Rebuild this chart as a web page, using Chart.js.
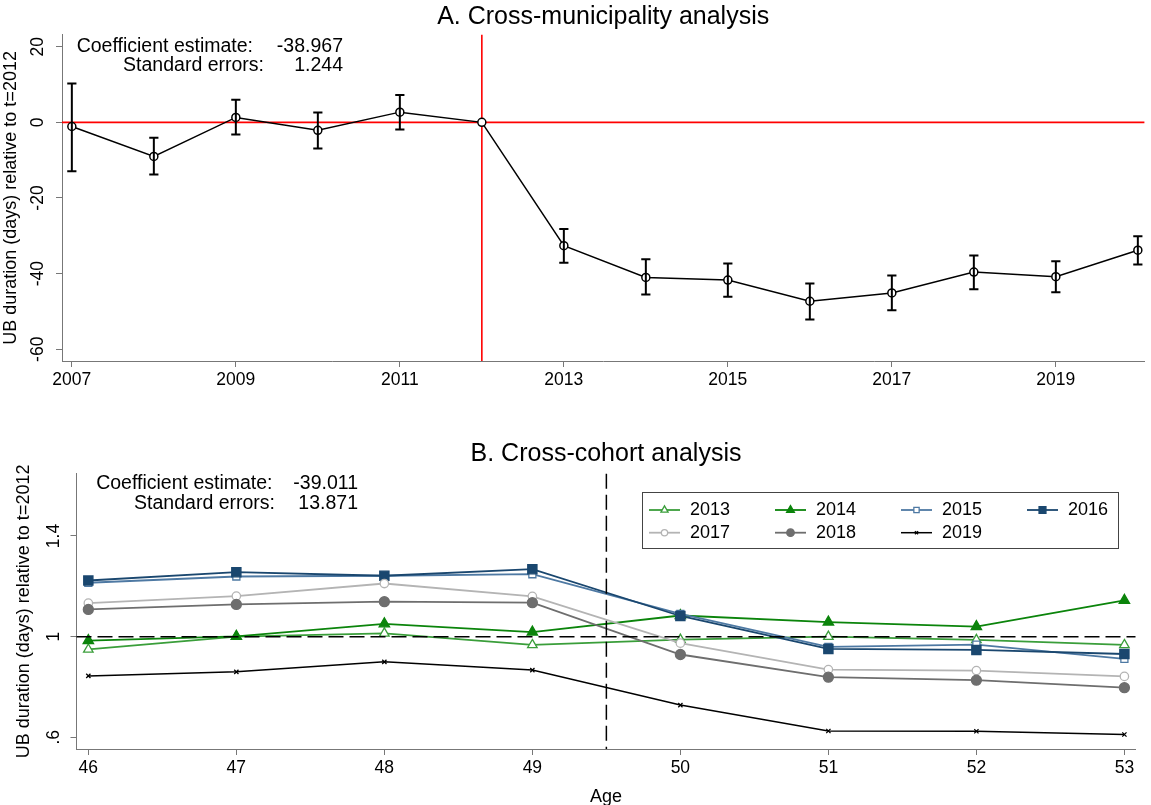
<!DOCTYPE html>
<html lang="en">
<head>
<meta charset="UTF-8" />
<title>UB duration relative to t=2012</title>
<script src="https://cdn.jsdelivr.net/npm/chart.js@4.4.1/dist/chart.umd.min.js"></script>
<style>
  html, body { margin: 0; padding: 0; background: #fff; overflow: hidden; }
  .panel { position: absolute; left: 0; width: 1151px; }
  #panelA { top: 0; height: 400px; }
  #panelB { top: 400px; height: 410px; }
</style>
</head>
<body>
<div class="panel" id="panelA"><canvas id="chartA"></canvas></div>
<div class="panel" id="panelB"><canvas id="chartB"></canvas></div>

<script>
// ---- Panel A: cross-municipality ----
const yearsA = [2007, 2008, 2009, 2010, 2011, 2012, 2013, 2014, 2015, 2016, 2017, 2018, 2019, 2020];
const estA = [-1.1, -9.0, 1.3, -2.1, 2.7, 0, -32.6, -41.0, -41.7, -47.3, -45.1, -39.6, -40.8, -33.8];
const ciLowA = [-12.9, -13.8, -3.2, -6.9, -1.9, null, -37.1, -45.5, -46.1, -52.1, -49.7, -44.1, -44.9, -37.6];
const ciHighA = [10.3, -4.1, 6.0, 2.6, 7.2, null, -28.2, -36.2, -37.3, -42.6, -40.5, -35.2, -36.7, -30.1];
const xTicksA = [2007, 2009, 2011, 2013, 2015, 2017, 2019];
const yTicksA = [-60, -40, -20, 0, 20];
const statLabels = ["Coefficient estimate:", "Standard errors:"];
const statsA = ["-38.967", "1.244"];

// ---- Panel B: cross-cohort ----
const ages = [46, 47, 48, 49, 50, 51, 52, 53];
const cohorts = ["2013", "2014", "2015", "2016", "2017", "2018", "2019"];
const v2013 = [0.949, 1.000, 1.013, 0.967, 0.988, 1.000, 0.987, 0.967];
const v2014 = [0.984, 1.001, 1.051, 1.018, 1.084, 1.058, 1.040, 1.144];
const v2015 = [1.214, 1.239, 1.242, 1.248, 1.090, 0.959, 0.968, 0.912];
const v2016 = [1.223, 1.256, 1.242, 1.268, 1.082, 0.951, 0.947, 0.931];
const v2017 = [1.133, 1.161, 1.211, 1.160, 0.974, 0.869, 0.865, 0.842];
const v2018 = [1.108, 1.128, 1.139, 1.135, 0.929, 0.839, 0.827, 0.797];
const v2019 = [0.844, 0.860, 0.900, 0.867, 0.728, 0.625, 0.624, 0.611];
const yTicksB = [0.6, 1, 1.4];
const yTickLabelsB = [".6", "1", "1.4"];
const statsB = ["-39.011", "13.871"];

const FONT = '"Liberation Sans", Arial, Helvetica, sans-serif';
const axisColor = "#777777";
Chart.defaults.font.family = FONT;
Chart.defaults.color = "#000";

// reference lines (zero line, policy year)
const refLines = {
  id: "refLines",
  draw(chart, opts) {
    const { ctx, chartArea: a, scales: { x, y } } = chart;
    ctx.save();
    ctx.strokeStyle = opts.color;
    ctx.lineWidth = opts.width;
    ctx.setLineDash(opts.dash || []);
    ctx.beginPath();
    if (opts.yValue != null) {
      const py = y.getPixelForValue(opts.yValue);
      ctx.moveTo(a.left, py);
      ctx.lineTo(a.right, py);
    }
    if (opts.xValue != null) {
      const px = x.getPixelForValue(opts.xValue);
      ctx.moveTo(px, a.top);
      ctx.lineTo(px, a.bottom);
    }
    ctx.stroke();
    ctx.restore();
  },
  beforeDatasetsDraw(chart, args, opts) {
    if (!opts.above) this.draw(chart, opts);
  },
  afterDatasetsDraw(chart, args, opts) {
    if (opts.above) this.draw(chart, opts);
  },
};

// coefficient / SE text in the corner
const statsText = {
  id: "statsText",
  afterDraw(chart, args, opts) {
    const { ctx, chartArea: a } = chart;
    ctx.save();
    ctx.font = opts.size + "px " + FONT;
    ctx.fillStyle = "#000";
    ctx.textAlign = "right";
    ctx.textBaseline = "middle";
    statLabels.forEach((lab, i) => {
      ctx.fillText(lab, a.left + opts.labelRight[i], a.top + opts.dy[i]);
      ctx.fillText(opts.values[i], a.left + opts.valueRight, a.top + opts.dy[i]);
    });
    ctx.restore();
  },
};

// boxed legend inside the plot, 4 columns
const boxLegend = {
  id: "boxLegend",
  afterDraw(chart, args, opts) {
    const { ctx, chartArea: a } = chart;
    const left = a.left + opts.left;
    const top = a.top + opts.top;
    ctx.save();
    ctx.fillStyle = "#fff";
    ctx.fillRect(left, top, opts.width, opts.height);
    ctx.strokeStyle = "#444";
    ctx.lineWidth = 1;
    ctx.strokeRect(Math.round(left) + 0.5, Math.round(top) + 0.5, opts.width, opts.height);
    ctx.font = opts.size + "px " + FONT;
    chart.data.datasets.forEach((ds, i) => {
      const c = i % opts.cols;
      const r = Math.floor(i / opts.cols);
      const x0 = left + opts.padLeft + c * opts.colW;
      const y0 = top + opts.rowY[r];
      ctx.setLineDash([]);
      ctx.strokeStyle = ds.borderColor;
      ctx.lineWidth = ds.borderWidth;
      ctx.beginPath();
      ctx.moveTo(x0, y0);
      ctx.lineTo(x0 + opts.lineLen, y0);
      ctx.stroke();
      ctx.fillStyle = ds.pointBackgroundColor;
      ctx.strokeStyle = ds.pointBorderColor;
      ctx.lineWidth = ds.pointBorderWidth;
      Chart.helpers.drawPoint(ctx, {
        pointStyle: ds.pointStyle,
        radius: ds.pointRadius * 0.75,
        borderWidth: ds.pointBorderWidth,
        rotation: 0,
      }, x0 + opts.lineLen / 2, y0);
      ctx.fillStyle = "#000";
      ctx.textAlign = "left";
      ctx.textBaseline = "middle";
      ctx.fillText(ds.label, x0 + opts.lineLen + opts.textGap, y0);
    });
    ctx.restore();
  },
};

function axisStyle(extra) {
  return Object.assign({
    grid: { display: true, drawOnChartArea: false, drawTicks: true, tickLength: 6, color: axisColor, lineWidth: 1 },
    border: { display: true, color: axisColor, width: 1 },
  }, extra);
}

// ---------- Chart A ----------
const errBars = [];
yearsA.forEach((yr, i) => {
  if (ciLowA[i] === null) return;
  errBars.push({ x: yr, y: ciLowA[i] }, { x: yr, y: ciHighA[i] }, { x: yr, y: null });
});

new Chart(document.getElementById("chartA"), {
  type: "line",
  data: {
    datasets: [
      {
        label: "95% CI",
        data: errBars,
        borderColor: "#000",
        borderWidth: 2,
        spanGaps: false,
        pointStyle: "line",
        pointRadius: 4.6,
        pointBorderWidth: 2,
        pointBorderColor: "#000",
        order: 0,
      },
      {
        label: "Estimate",
        data: yearsA.map((yr, i) => ({ x: yr, y: estA[i] })),
        borderColor: "#000",
        borderWidth: 1.5,
        pointStyle: "circle",
        pointRadius: 4,
        pointBorderWidth: 1.5,
        pointBorderColor: "#000",
        pointBackgroundColor: "#fff",
        order: 1,
      },
    ],
  },
  options: {
    responsive: true,
    maintainAspectRatio: false,
    animation: false,
    events: [],
    layout: { padding: { left: 0, right: 1, top: 0, bottom: 0 } },
    scales: {
      x: axisStyle({
        type: "linear",
        min: 2006.88,
        max: 2020.08,
        afterBuildTicks: (s) => { s.ticks = xTicksA.map((v) => ({ value: v })); },
        afterFit: (s) => { s.height = 39; },
        ticks: { font: { size: 17.5 }, padding: 3, maxRotation: 0, autoSkip: false, callback: (v) => String(v) },
      }),
      y: axisStyle({
        type: "linear",
        min: -63.1,
        max: 23.15,
        afterBuildTicks: (s) => { s.ticks = yTicksA.map((v) => ({ value: v })); },
        afterFit: (s) => { s.width = 62; },
        ticks: { font: { size: 17.5 }, padding: 5, minRotation: 90, maxRotation: 90, crossAlign: "center", callback: (v) => String(v) },
        title: { display: true, text: "UB duration (days) relative to t=2012", font: { size: 18 }, padding: { top: 0.5, bottom: 0 } },
      }),
    },
    plugins: {
      legend: { display: false },
      tooltip: { enabled: false },
      title: {
        display: true,
        fullSize: false,
        text: "A. Cross-municipality analysis",
        font: { size: 25, weight: "normal" },
        color: "#000",
        padding: { top: 1.7, bottom: 3.1 },
      },
      refLines: { xValue: 2012, yValue: 0, color: "#ff0000", width: 1.6, above: false },
      statsText: { size: 19.5, values: statsA, labelRight: [191, 202], valueRight: 281, dy: [12, 31] },
    },
  },
  plugins: [refLines, statsText],
});

// ---------- Chart B ----------
const seriesB = [v2013, v2014, v2015, v2016, v2017, v2018, v2019];
const colorsB = ["#3a9e3a", "#0b840b", "#4e79a3", "#1a476f", "#b4b4b4", "#6e6e6e", "#000000"];
const fillsB = ["#ffffff", "#0b840b", "#ffffff", "#1a476f", "#ffffff", "#6e6e6e", "#000000"];
const stylesB = ["triangle", "triangle", "rect", "rect", "circle", "circle", "crossRot"];
const radiiB = [5.5, 6, 5, 6.5, 4.2, 5, 3];

new Chart(document.getElementById("chartB"), {
  type: "line",
  data: {
    datasets: cohorts.map((c, i) => ({
      label: c,
      data: ages.map((a, j) => ({ x: a, y: seriesB[i][j] })),
      borderColor: colorsB[i],
      borderWidth: i === 6 ? 1.5 : 1.8,
      pointStyle: stylesB[i],
      pointRadius: radiiB[i],
      pointBorderWidth: 1.3,
      pointBorderColor: colorsB[i],
      pointBackgroundColor: fillsB[i],
      order: cohorts.length - i,
    })),
  },
  options: {
    responsive: true,
    maintainAspectRatio: false,
    animation: false,
    events: [],
    layout: { padding: { left: 0, right: 15.5, top: 0, bottom: 0 } },
    scales: {
      x: axisStyle({
        type: "linear",
        min: 45.92,
        max: 53.075,
        afterBuildTicks: (s) => { s.ticks = ages.map((v) => ({ value: v })); },
        afterFit: (s) => { s.height = 61; },
        ticks: { font: { size: 17.5 }, padding: 2.5, maxRotation: 0, autoSkip: false, callback: (v) => String(v) },
        title: { display: true, text: "Age", font: { size: 18 }, padding: { top: 0, bottom: 2.2 } },
      }),
      y: axisStyle({
        type: "linear",
        min: 0.5535,
        max: 1.647,
        afterBuildTicks: (s) => { s.ticks = yTicksB.map((v) => ({ value: v })); },
        afterFit: (s) => { s.width = 76.5; },
        ticks: {
          font: { size: 17.5 }, padding: 4, minRotation: 90, maxRotation: 90, crossAlign: "center",
          callback: (v) => yTickLabelsB[yTicksB.indexOf(v)],
        },
        title: { display: true, text: "UB duration (days) relative to t=2012", font: { size: 18 }, padding: { top: 13, bottom: 0 } },
      }),
    },
    plugins: {
      legend: { display: false },
      tooltip: { enabled: false },
      title: {
        display: true,
        fullSize: false,
        text: "B. Cross-cohort analysis",
        font: { size: 25, weight: "normal" },
        color: "#000",
        padding: { top: 39.5, bottom: 4.3 },
      },
      refLines: { xValue: 49.5, yValue: 1, color: "#000", width: 1.5, dash: [15, 6], above: true },
      statsText: { size: 19.5, values: statsB, labelRight: [196, 198.5], valueRight: 281.5, dy: [10, 30] },
      boxLegend: {
        left: 565.5, top: 18.2, width: 476, height: 56, cols: 4, colW: 126, padLeft: 7,
        rowY: [18, 40.7], lineLen: 31, textGap: 10, size: 18,
      },
    },
  },
  plugins: [refLines, statsText, boxLegend],
});
</script>
</body>
</html>
